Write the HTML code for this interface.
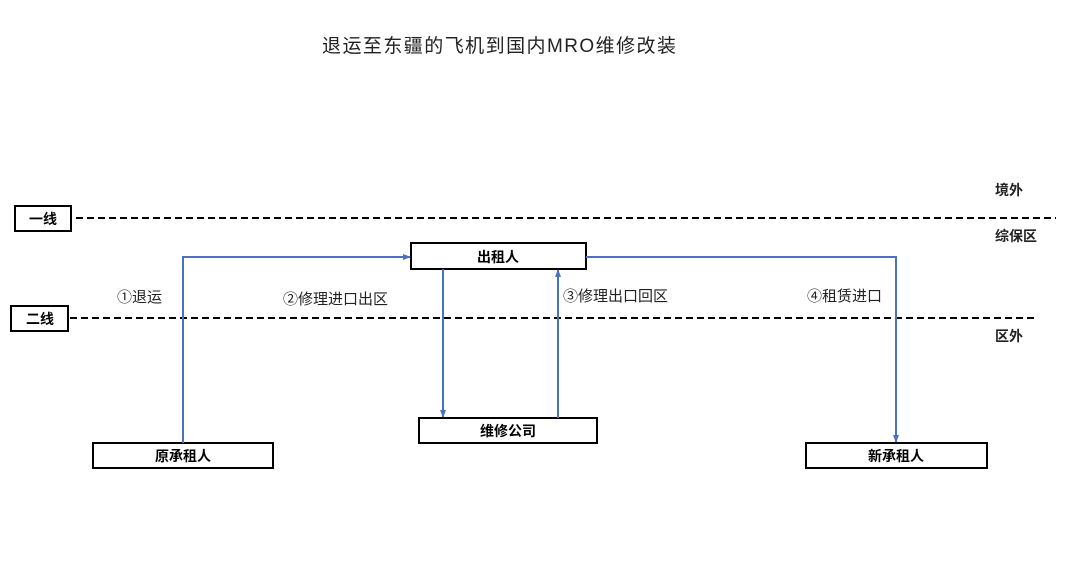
<!DOCTYPE html>
<html><head><meta charset="utf-8"><style>
body{margin:0;background:#fff;}
svg text{font-family:"Liberation Sans","Noto Sans CJK SC",sans-serif;}
</style></head><body>
<svg width="1080" height="562" viewBox="0 0 1080 562" xmlns="http://www.w3.org/2000/svg">
<defs><marker id="a" markerWidth="8" markerHeight="8" refX="7" refY="4" orient="auto" markerUnits="userSpaceOnUse"><path d="M0,1 L8,4 L0,7 Z" fill="#4a72c0"/></marker></defs>
<rect width="1080" height="562" fill="#fff"/>
<text x="499" y="52" font-size="19" text-anchor="middle" fill="#222" font-family="Liberation Serif,Noto Sans CJK SC,serif" textLength="354">退运至东疆的飞机到国内MRO维修改装</text>
<line x1="76" y1="218" x2="1056" y2="218" stroke="#000" stroke-width="2" stroke-dasharray="7,4"/>
<line x1="70" y1="318" x2="1036" y2="318" stroke="#000" stroke-width="2" stroke-dasharray="7,4"/>
<g fill="#fff" stroke="#000" stroke-width="2">
<rect x="15" y="206" width="56" height="25"/>
<rect x="11" y="306" width="57" height="25"/>
<rect x="411" y="243" width="175" height="26"/>
<rect x="419" y="418" width="178" height="25"/>
<rect x="93" y="443" width="180" height="25"/>
<rect x="806" y="443" width="181" height="25"/>
</g>
<g font-size="14" font-weight="bold" text-anchor="middle" fill="#000">
<text x="43" y="224">一线</text>
<text x="40" y="324">二线</text>
<text x="498" y="262">出租人</text>
<text x="508" y="436">维修公司</text>
<text x="183" y="461">原承租人</text>
<text x="896" y="461">新承租人</text>
</g>
<g font-size="14" font-weight="bold" fill="#222">
<text x="995" y="195">境外</text>
<text x="995" y="241">综保区</text>
<text x="995" y="341">区外</text>
</g>
<g fill="none" stroke="#4a72c0" stroke-width="2">
<polyline points="183,443 183,257 410,257" marker-end="url(#a)"/>
<line x1="443" y1="269" x2="443" y2="417" marker-end="url(#a)"/>
<line x1="558" y1="418" x2="558" y2="270" marker-end="url(#a)"/>
<polyline points="586,257 896,257 896,442" marker-end="url(#a)"/>
</g>
<g font-size="15" fill="#222">
<text x="117" y="302">①退运</text>
<text x="283" y="304">②修理进口出区</text>
<text x="563" y="301">③修理出口回区</text>
<text x="807" y="301">④租赁进口</text>
</g>
</svg>
</body></html>
